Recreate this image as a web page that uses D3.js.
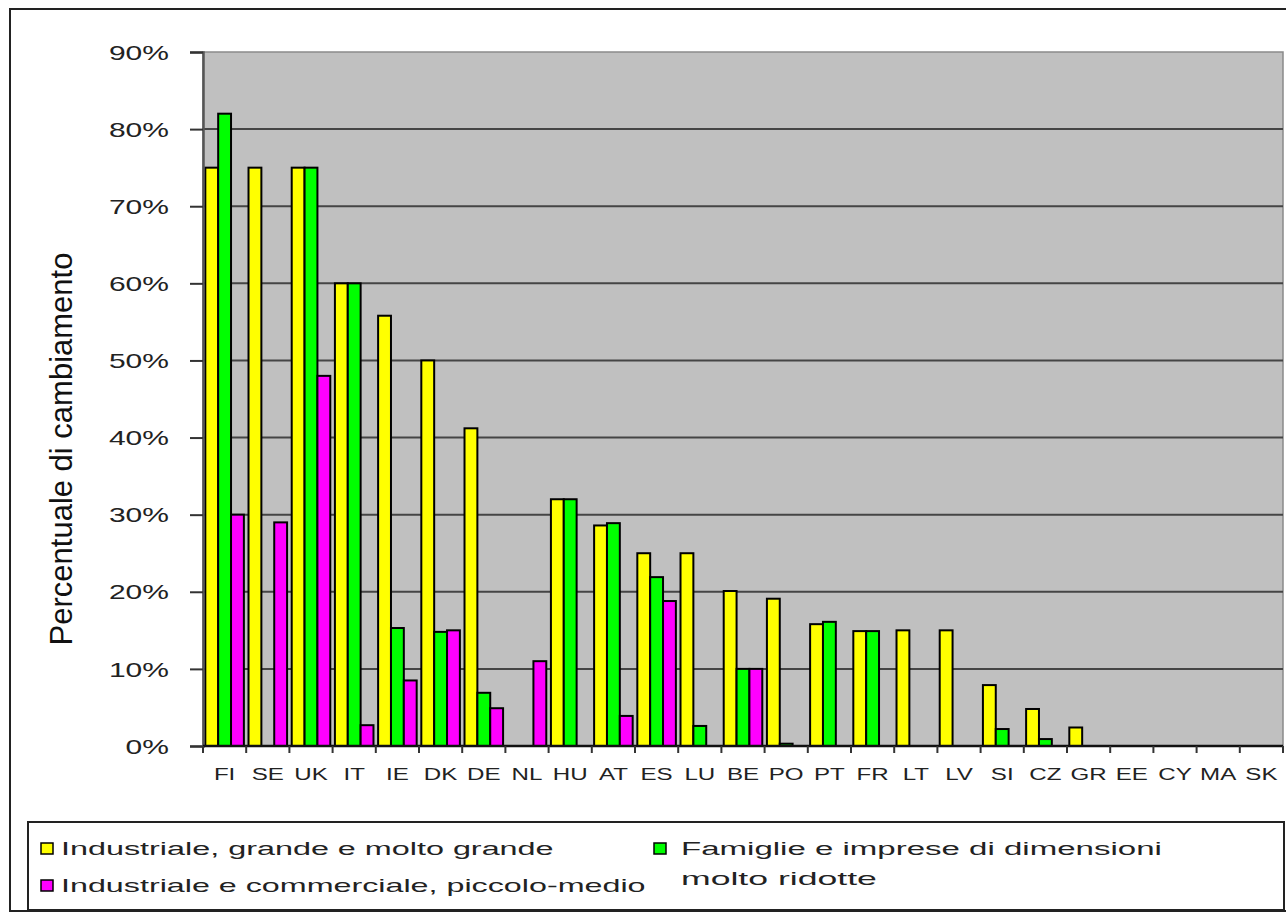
<!DOCTYPE html>
<html>
<head>
<meta charset="utf-8">
<script src="https://cdn.jsdelivr.net/npm/d3@7"></script>
<style>
  html, body { margin: 0; padding: 0; background: #fff; }
  svg { display: block; }
  text { font-family: "Liberation Sans", Arial, sans-serif; }
</style>
</head>
<body>
<svg id="chart" width="1286" height="912"></svg>
<script>
// Countries along the x axis
const countries = ["FI","SE","UK","IT","IE","DK","DE","NL","HU","AT","ES","LU","BE","PO","PT","FR","LT","LV","SI","CZ","GR","EE","CY","MA","SK"];

// Percentage of supplier switching per customer segment (null = no bar)
const grandeValues   = [75, 75, 75, 60, 55.8, 50, 41.2, null, 32, 28.6, 25, 25, 20.1, 19.1, 15.8, 14.9, 15, 15, 7.9, 4.8, 2.4, null, null, null, null];
const famiglieValues = [82, null, 75, 60, 15.3, 14.8, 6.9, null, 32, 28.9, 21.9, 2.6, 10, 0.3, 16.1, 14.9, null, null, 2.2, 0.9, null, null, null, null, null];
const piccoloValues  = [30, 29, 48, 2.7, 8.5, 15, 4.9, 11, null, 3.9, 18.8, null, 10, null, null, null, null, null, null, null, null, null, null, null, null];

// Series names (bar order inside each group) and colours
const seriesNames  = ["Industriale, grande e molto grande", "Famiglie e imprese di dimensioni molto ridotte", "Industriale e commerciale, piccolo-medio"];
const seriesColors = ["#ffff00", "#00ff00", "#ff00ff"];
const seriesValues = [grandeValues, famiglieValues, piccoloValues];

// Y axis tick values (percent)
const yTicks = [0, 10, 20, 30, 40, 50, 60, 70, 80, 90];
const yTitle = "Percentuale di cambiamento";

const svg = d3.select("#chart");
const plot = { left: 203, right: 1283, top: 52, bottom: 746 };

// outer frame
svg.append("rect")
  .attr("x", 10).attr("y", 9).attr("width", 1300).attr("height", 902)
  .attr("fill", "#fff").attr("stroke", "#222").attr("stroke-width", 2);

const x = d3.scaleBand().domain(countries).range([plot.left, plot.right]).padding(0);
const xs = d3.scaleBand().domain(d3.range(seriesNames.length)).range([0, x.bandwidth()]).paddingInner(0).paddingOuter(0.18);
const y = d3.scaleLinear().domain([0, 90]).range([plot.bottom, plot.top]);

// plot background
svg.append("rect")
  .attr("x", plot.left).attr("y", plot.top)
  .attr("width", plot.right - plot.left).attr("height", plot.bottom - plot.top)
  .attr("fill", "#c0c0c0").attr("stroke", "#8a8a8a").attr("stroke-width", 1.5);

// horizontal gridlines
svg.append("g").selectAll("line")
  .data(yTicks.filter(d => d > 0 && d < 90))
  .join("line")
  .attr("x1", plot.left).attr("x2", plot.right)
  .attr("y1", d => y(d)).attr("y2", d => y(d))
  .attr("stroke", "#454545").attr("stroke-width", 2);

// bars
const rows = countries.map((c, i) => ({ country: c, values: seriesValues.map(s => s[i]) }));
const groups = svg.append("g").selectAll("g")
  .data(rows).join("g")
  .attr("transform", d => `translate(${x(d.country)},0)`);

groups.selectAll("rect")
  .data(d => d.values.map((v, k) => ({ v, k })).filter(e => e.v !== null))
  .join("rect")
  .attr("x", e => xs(e.k))
  .attr("width", xs.bandwidth())
  .attr("y", e => y(e.v))
  .attr("height", e => y(0) - y(e.v))
  .attr("fill", e => seriesColors[e.k])
  .attr("stroke", "#000").attr("stroke-width", 2);

// y axis
const yAxis = svg.append("g")
  .attr("transform", `translate(${plot.left},0)`)
  .call(d3.axisLeft(y).tickValues(yTicks).tickSize(13).tickPadding(0).tickFormat(d => d + "%"));
yAxis.select(".domain").attr("stroke", "#555").attr("stroke-width", 2.5);
yAxis.selectAll(".tick line").attr("stroke", "#333").attr("stroke-width", 2);
yAxis.selectAll(".tick text")
  .attr("x", -22.7).attr("dy", "0.36em")
  .attr("transform", "scale(1.5,1)")
  .attr("font-size", 20).attr("fill", "#222")
  .style("font-family", "'Liberation Sans', Arial, sans-serif");

// baseline
svg.append("line")
  .attr("x1", plot.left).attr("x2", plot.right)
  .attr("y1", plot.bottom).attr("y2", plot.bottom)
  .attr("stroke", "#111").attr("stroke-width", 2.5);

// category boundary ticks
const bounds = countries.map(c => x(c)).concat([plot.right]);
svg.append("g").selectAll("line")
  .data(bounds).join("line")
  .attr("x1", d => d).attr("x2", d => d)
  .attr("y1", plot.bottom).attr("y2", plot.bottom + 7)
  .attr("stroke", "#333").attr("stroke-width", 2);

// x labels
const xAxis = svg.append("g")
  .attr("transform", `translate(0,${plot.bottom})`)
  .call(d3.axisBottom(x).tickSize(0).tickPadding(0));
xAxis.select(".domain").remove();
xAxis.selectAll(".tick text")
  .attr("y", 34).attr("dy", 0)
  .attr("transform", "scale(1.42,1)")
  .attr("font-size", 17).attr("fill", "#222")
  .style("font-family", "'Liberation Sans', Arial, sans-serif");
// keep labels centred on their category after horizontal stretch
xAxis.selectAll(".tick").each(function(d) {
  const cx = x(d) + x.bandwidth() / 2;
  d3.select(this).attr("transform", `translate(${cx},0)`);
});

// y axis title
svg.append("text")
  .attr("transform", "translate(72,449) rotate(-90)")
  .attr("text-anchor", "middle")
  .attr("font-size", 31).attr("fill", "#111")
  .text(yTitle);

// legend
const legend = svg.append("g");
legend.append("rect")
  .attr("x", 28).attr("y", 822).attr("width", 1256).attr("height", 88)
  .attr("fill", "#fff").attr("stroke", "#222").attr("stroke-width", 2);

const legendItems = [
  { k: 0, sx: 41, sy: 843, lines: [seriesNames[0]], tx: 61, ty: [855], w: [493] },
  { k: 2, sx: 41, sy: 880, lines: [seriesNames[2]], tx: 61, ty: [892], w: [585] },
  { k: 1, sx: 654, sy: 843, lines: ["Famiglie e imprese di dimensioni", "molto ridotte"], tx: 681, ty: [855, 885], w: [481, 196] }
];
legendItems.forEach(it => {
  legend.append("rect")
    .attr("x", it.sx).attr("y", it.sy).attr("width", 12).attr("height", 11)
    .attr("fill", seriesColors[it.k]).attr("stroke", "#000").attr("stroke-width", 1.5);
  it.lines.forEach((ln, j) => {
    // natural width at 19px, then stretched horizontally to the target width
    const t = legend.append("text")
      .attr("font-size", 19).attr("fill", "#222")
      .text(ln);
    const natural = t.node().getComputedTextLength();
    const sx = it.w[j] / natural;
    t.attr("transform", `translate(${it.tx},${it.ty[j]}) scale(${sx},1)`);
  });
});
</script>
</body>
</html>
